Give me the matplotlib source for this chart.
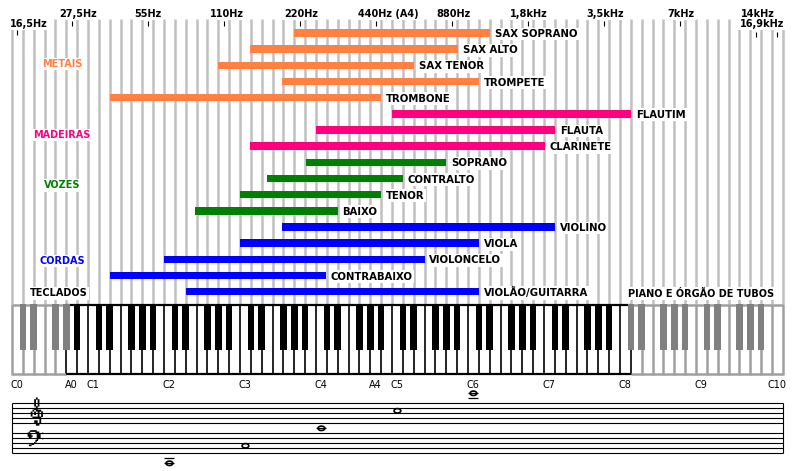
import numpy as np
import matplotlib
matplotlib.use('Agg')
import matplotlib.pyplot as plt
from matplotlib.patches import Rectangle, Ellipse, Circle
from matplotlib import font_manager
from matplotlib.ft2font import FT2Font

# escala horizontal: unidades de tecla branca (C0 = 0 ... C10 = 70)
instrumentos = ['SAX SOPRANO', 'SAX ALTO', 'SAX TENOR', 'TROMPETE', 'TROMBONE',
                'FLAUTIM', 'FLAUTA', 'CLARINETE',
                'SOPRANO', 'CONTRALTO', 'TENOR', 'BAIXO',
                'VIOLINO', 'VIOLA', 'VIOLONCELO', 'CONTRABAIXO', 'VIOLÃO/GUITARRA']
inicio = [26.0, 21.9, 19.0, 24.9, 9.0,
          35.0, 28.0, 21.9,
          27.1, 23.5, 21.0, 16.9,
          24.9, 21.0, 14.0, 9.0, 16.0]
fim = [44.0, 41.1, 37.0, 43.0, 34.0,
       57.0, 50.0, 49.1,
       40.0, 36.0, 34.0, 30.0,
       50.0, 43.0, 38.0, 28.9, 43.0]
grupo = ['METAIS'] * 5 + ['MADEIRAS'] * 3 + ['VOZES'] * 4 + ['CORDAS'] * 5

cores = {'METAIS': '#ff8040', 'MADEIRAS': '#ff0080', 'VOZES': '#008000', 'CORDAS': '#0000ff'}

freq_labels = ['16,5Hz', '27,5Hz', '55Hz', '110Hz', '220Hz', '440Hz (A4)', '880Hz',
               '1,8kHz', '3,5kHz', '7kHz', '14kHz', '16,9kHz']
freq_keys = [0, 5, 12, 19, 26, 33, 40, 47, 54, 61, 68, 70]

notas = ['C0', 'A0', 'C1', 'C2', 'C3', 'C4', 'A4', 'C5', 'C6', 'C7', 'C8', 'C9', 'C10']
notas_keys = [0, 5, 7, 14, 21, 28, 33, 35, 42, 49, 56, 63, 70]

# notas na pauta (tecla branca, passos diatônicos a partir do C4)
pauta_keys = [14, 21, 28, 35, 42]
pauta_passos = [-14, -7, 0, 7, 14]

piano_min, piano_max = 5, 57   # A0 .. C8

G_CLEF, F_CLEF = '\U0001D11E', '\U0001D122'


def fonte_com(ch):
    # procura uma fonte instalada que tenha o glifo
    for f in font_manager.fontManager.ttflist:
        try:
            if ord(ch) in FT2Font(f.fname).get_charmap():
                return f.name
        except Exception:
            pass
    return None


KP = 10.857  # px por tecla


def px(x):
    return (np.asarray(x, dtype=float) - 12) / KP


fig = plt.figure(figsize=(7.94, 4.71), dpi=100)
ax = fig.add_axes([0, 0, 1, 1])
ax.set_xlim(px(0), px(794))
ax.set_ylim(471, 0)
ax.axis('off')

fb = dict(family='DejaVu Sans', weight='bold')
bg = dict(facecolor='white', edgecolor='none', pad=1.0)

# linhas verticais cinza
ax.vlines(np.arange(72), 19, 304, color='#c0c0c0', lw=1.8, zorder=1)

# rótulos de frequência
fx = [-0.2, 6.1, 12.5, 19.8, 26.6, 31.9, 40.7, 47.6, 54.6, 61.6, 68.7, 71.1]
fy = [23, 13, 13, 13, 13, 13, 13, 13, 13, 13, 13, 23]
fha = ['left', 'center', 'center', 'center', 'center', 'left', 'center', 'center',
       'center', 'center', 'center', 'right']
for lab, k, x, y, ha in zip(freq_labels, freq_keys, fx, fy, fha):
    ax.text(x, y, lab, ha=ha, va='center_baseline', fontsize=7, color='black',
            bbox=bg, zorder=4, **fb)
    if lab == '16,5Hz':
        ax.vlines(k + 0.5, 30, 35, color='black', lw=0.8, zorder=5)
    elif lab in ('14kHz', '16,9kHz'):
        ax.vlines(k + 0.5, 32, 37, color='black', lw=0.8, zorder=5)
    else:
        ax.vlines(k + 0.5, 21, 26, color='black', lw=0.8, zorder=5)

# barras
linhas = 33 + 16.17 * np.arange(len(instrumentos))
for nome, a, b, g, y in zip(instrumentos, inicio, fim, grupo, linhas):
    ax.barh(y, b - a, left=a, height=7.5, color=cores[g], zorder=3)
    ax.text(b + 0.45, y, nome, ha='left', va='center_baseline', fontsize=7.3,
            color='black', bbox=bg, zorder=4, **fb)

# nomes dos grupos
gy = {'METAIS': 63, 'MADEIRAS': 134, 'VOZES': 184.5, 'CORDAS': 260}
for g, y in gy.items():
    ax.text(4.6, y, g, ha='center', va='center_baseline', fontsize=7, color=cores[g],
            bbox=bg, zorder=4, **fb)
ax.text(4.3, 292.5, 'TECLADOS', ha='center', va='center_baseline', fontsize=7,
        color='black', bbox=bg, zorder=4, **fb)
ax.text(63.5, 292.5, 'PIANO E ÓRGÃO DE TUBOS', ha='center', va='center_baseline',
        fontsize=7, color='black', bbox=bg, zorder=4, **fb)

# teclado
top, bot, bk = 304, 375, 350
ax.add_patch(Rectangle((0, top), 71, bot - top, facecolor='white', edgecolor='none', zorder=2))
for b in range(72):
    dentro = piano_min <= b <= piano_max
    ax.vlines(b, top, bot, color='black' if dentro else '#a0a0a0',
              lw=1.2 if dentro else 1.8, zorder=3)
ax.hlines([top + 1, bot - 1], 0, piano_min, color='#a0a0a0', lw=1.8, zorder=3)
ax.hlines([top + 1, bot - 1], piano_max, 71, color='#a0a0a0', lw=1.8, zorder=3)
ax.hlines([top + 1, bot - 1], piano_min, piano_max, color='black', lw=1.6, zorder=4)
for b in range(1, 71):
    if b % 7 in (1, 2, 4, 5, 6):
        cor = 'black' if piano_min < b < piano_max else '#808080'
        ax.add_patch(Rectangle((b - 0.3, top), 0.6, bk - top, facecolor=cor,
                               edgecolor='none', zorder=5))

for n, k in zip(notas, notas_keys):
    ax.text(k + 0.5, 383.5, n, ha='center', va='center_baseline', fontsize=7,
            color='black', family='DejaVu Sans')

# pauta
mid_c = 428.3
sup = mid_c - 5 * np.arange(1, 6)
inf = mid_c + 5 * np.arange(1, 6)
ax.hlines(np.concatenate([sup, inf]), 0, 71, color='black', lw=0.8)
ax.vlines([0, 71], sup.min(), inf.max(), color='black', lw=0.8)

fonte_g = fonte_com(G_CLEF)
fonte_f = fonte_com(F_CLEF)
if fonte_g:
    ax.text(px(35), 414, G_CLEF, ha='center', va='center', fontsize=20, color='black',
            family=[fonte_g, 'DejaVu Sans'])
else:
    # clave de sol desenhada como traço
    gx = [30, 31, 33, 35, 35.5, 35, 34, 33.5, 34.5, 36.5, 37.5, 37, 35, 32, 29.5,
          28.5, 29.5, 32, 35.5, 38.5, 39, 37.5, 35, 33, 33.5]
    gyy = [425.5, 428, 428.5, 427, 424, 416, 408, 402, 398, 397.5, 399.5, 402.5, 406,
           409, 412, 416, 419.5, 421.5, 421, 418.5, 415, 412.5, 412.5, 415, 418]
    ax.plot(px(gx), gyy, color='black', lw=1.1, solid_capstyle='round')
    ax.add_patch(Circle((px(30.5), 426), 0.12, color='black'))
if fonte_f:
    ax.text(px(35), 441, F_CLEF, ha='center', va='center', fontsize=15, color='black',
            family=[fonte_f, 'DejaVu Sans'])
else:
    # clave de fá desenhada como traço
    fxx = [29, 29.5, 31.5, 34.5, 37.5, 38.5, 38, 36, 33, 29.5, 27]
    fyy = [437, 434.5, 433, 433, 434.5, 437.5, 441, 444.5, 447.5, 450.5, 452.5]
    ax.plot(px(fxx), fyy, color='black', lw=1.3, solid_capstyle='round')
    ax.add_patch(Ellipse((px(30), 437), 0.28, 3.0, color='black'))
    ax.add_patch(Ellipse((px(41.5), 435.8), 0.2, 2.0, color='black'))
    ax.add_patch(Ellipse((px(41.5), 440.8), 0.2, 2.0, color='black'))

for k, p in zip(pauta_keys, pauta_passos):
    x = k + 0.5
    y = mid_c - 2.5 * p
    ax.add_patch(Ellipse((x, y), 0.62, 4.4, fill=False, edgecolor='black', lw=1.2, zorder=5))
    # linhas suplementares
    if p == 0:
        led = [0]
    elif p > 10:
        led = list(range(12, p + 1, 2))
    elif p < -10:
        led = list(range(-12, p - 1, -2))
    else:
        led = []
    for q in led:
        ax.hlines(mid_c - 2.5 * q, x - 0.46, x + 0.46, color='black', lw=0.9, zorder=4)

plt.savefig('out.png', dpi=100)
